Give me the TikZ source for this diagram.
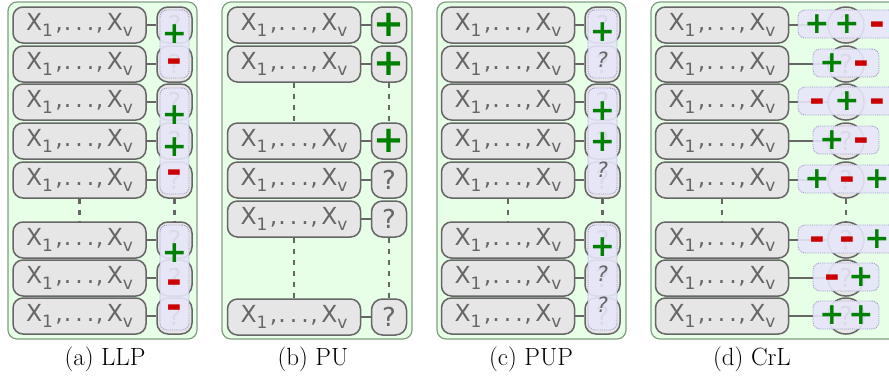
\documentclass[tikz,border=0pt]{standalone}
\usepackage{fontspec}
\newfontfamily\dejavu{DejaVu Sans}

\definecolor{panelfill}{HTML}{E6FFE6}
\definecolor{panelline}{HTML}{7F9F7F}
\definecolor{boxfill}{HTML}{E6E6E6}
\definecolor{boxline}{HTML}{666666}
\definecolor{txtgray}{HTML}{666666}
\definecolor{bagfill}{HTML}{E6E6F9}
\definecolor{bagline}{HTML}{9A9AC8}
\definecolor{plusgreen}{HTML}{008000}
\definecolor{minusred}{HTML}{CC0000}

% variable list X_1,...,X_v
\newcommand\xsub[1]{\raisebox{-6.5pt}{\fontsize{17}{17}\selectfont #1}}
\newcommand\xvars{X\xsub{1}\kern2.5pt,\kern1pt.\kern4pt.\kern4pt.\kern1.5pt,\kern3.5pt X\xsub{v}}

\tikzset{
  panel/.style={draw=panelline, fill=panelfill, line width=1.2pt, rounded corners=9pt},
  xbox/.style={draw=boxline, fill=boxfill, line width=1.5pt, rounded corners=10pt,
    minimum width=133pt, minimum height=36pt, inner sep=0pt, text=txtgray,
    font=\dejavu\fontsize{23.5}{23.5}\selectfont},
  lbox/.style={draw=boxline, fill=boxfill, line width=1.5pt, rounded corners=11pt,
    minimum width=35pt, minimum height=36pt, inner sep=0pt, text=txtgray,
    font=\dejavu\fontsize{26}{26}\selectfont},
  cbox/.style={lbox, rounded corners=17.5pt, minimum width=36pt},
  link/.style={draw=boxline, line width=2pt},
  gap/.style={draw=boxline, line width=2.8pt, dash pattern=on 5.5pt off 5.5pt},
  bag/.style={draw=bagline, densely dotted, line width=0.9pt, fill=bagfill,
    fill opacity=0.9, rounded corners=7pt, inner sep=0pt},
  plussym/.style={text=plusgreen, inner sep=0pt, font=\dejavu\bfseries\fontsize{30}{30}\selectfont},
  bigplus/.style={text=plusgreen, inner sep=0pt, font=\dejavu\bfseries\fontsize{37}{37}\selectfont},
  minussym/.style={text=minusred, inner sep=0pt, yshift=-4.5pt,
    font=\dejavu\bfseries\fontsize{38}{38}\selectfont},
  unksym/.style={text=txtgray, inner sep=0pt, font=\dejavu\itshape\fontsize{21}{21}\selectfont},
  subcap/.style={anchor=base, inner sep=0pt, font=\fontsize{24.9}{30}\selectfont},
}

\begin{document}
\begin{tikzpicture}[x=1pt, y=-1pt]
\useasboundingbox (0,0) rectangle (889,381);

% ---------- panel backgrounds ----------
\draw[panel] (8,2) rectangle (197,339);
\draw[panel] (222,2) rectangle (412,339);
\draw[panel] (437,2) rectangle (626,339);
\draw[panel] (651,2) rectangle (910,339);

% ---------- (a) LLP ----------
\foreach \i/\y in {1/25,2/64,3/102,4/141,5/180,6/240,7/278,8/316} {
  \node[xbox] (a\i) at (79.5,\y) {\xvars};
  \node[lbox] (la\i) at (174.5,\y) {?};
  \draw[link] (a\i) -- (la\i);
}
\draw[gap] (a5) -- (a6);
\draw[gap] (la5) -- (la6);
\node[bag, minimum width=29pt, minimum height=68pt]  (ba1) at (174.5,44) {};
\node[bag, minimum width=29pt, minimum height=106pt] (ba2) at (174.5,141) {};
\node[bag, minimum width=29pt, minimum height=105pt] (ba3) at (174.5,277.5) {};
\node[plussym]  (sa1) at (174.5,34.5) {+};
\node[minussym] (sa2) at (174.5,61) {-};
\node[plussym]  (sa3) at (174.5,115) {+};
\node[plussym]  (sa4) at (174.5,147) {+};
\node[minussym] (sa5) at (174.5,172) {-};
\node[plussym]  (sa6) at (174.5,253) {+};
\node[minussym] (sa7) at (174.5,282) {-};
\node[minussym] (sa8) at (174.5,307) {-};

% ---------- (b) PU ----------
\foreach \i/\y in {1/25,2/64,3/141} {
  \node[xbox] (b\i) at (294,\y) {\xvars};
  \node[lbox] (lb\i) at (389,\y) {};
  \node[bigplus] (sb\i) at (389,\y) {+};
  \draw[link] (b\i) -- (lb\i);
}
\foreach \i/\y in {4/180,5/219,6/317} {
  \node[xbox] (b\i) at (294,\y) {\xvars};
  \node[lbox] (lb\i) at (389,\y) {?};
  \draw[link] (b\i) -- (lb\i);
}
\draw[gap] (b2) -- (b3);
\draw[gap] (lb2) -- (lb3);
\draw[gap] (b5) -- (b6);
\draw[gap] (lb5) -- (lb6);

% ---------- (c) PUP ----------
\foreach \i/\y in {1/25,2/64,3/102,4/141,5/180,6/240,7/278,8/316} {
  \node[xbox] (c\i) at (508,\y) {\xvars};
  \node[lbox] (lc\i) at (602.5,\y) {?};
  \draw[link] (c\i) -- (lc\i);
}
\draw[gap] (c5) -- (c6);
\draw[gap] (lc5) -- (lc6);
\node[bag, minimum width=29pt, minimum height=68pt]  (bc1) at (602.5,44) {};
\node[bag, minimum width=29pt, minimum height=106pt] (bc2) at (602.5,141) {};
\node[bag, minimum width=29pt, minimum height=105pt] (bc3) at (602.5,277.5) {};
\node[plussym] (sc1) at (602.5,32) {+};
\node[unksym]  (sc2) at (602.5,60) {?};
\node[plussym] (sc3) at (602.5,111) {+};
\node[plussym] (sc4) at (602.5,142) {+};
\node[unksym]  (sc5) at (602.5,170) {?};
\node[plussym] (sc6) at (602.5,247) {+};
\node[unksym]  (sc7) at (602.5,274) {?};
\node[unksym]  (sc8) at (602.5,305) {?};

% ---------- (d) CrL ----------
\foreach \i/\y in {1/25,2/64,3/102,4/141,5/180,6/240,7/278,8/316} {
  \node[xbox] (d\i) at (722,\y) {\xvars};
  \node[cbox] (ld\i) at (846,\y) {?};
  \draw[link] (d\i) -- (ld\i);
}
\draw[gap] (d5) -- (d6);
\draw[gap] (ld5) -- (ld6);
% groups of three and of two labels
\foreach \i/\y in {1/25,3/102,5/180,6/240} {
  \node[bag, minimum width=98pt, minimum height=28pt] (bd\i) at (847,\y-1) {};
}
\foreach \i/\y in {2/64,4/141,7/278,8/316} {
  \node[bag, minimum width=66pt, minimum height=28pt] (bd\i) at (846,\y-1) {};
}
\node[plussym]  (sd1a) at (817,24) {+};
\node[plussym]  (sd1b) at (847,24) {+};
\node[minussym] (sd1c) at (877,24) {-};
\node[plussym]  (sd2a) at (832,63) {+};
\node[minussym] (sd2b) at (861,63) {-};
\node[minussym] (sd3a) at (817,101) {-};
\node[plussym]  (sd3b) at (847,101) {+};
\node[minussym] (sd3c) at (877,101) {-};
\node[plussym]  (sd4a) at (832,140) {+};
\node[minussym] (sd4b) at (861,140) {-};
\node[plussym]  (sd5a) at (817,179) {+};
\node[minussym] (sd5b) at (847,179) {-};
\node[plussym]  (sd5c) at (877,179) {+};
\node[minussym] (sd6a) at (817,239) {-};
\node[minussym] (sd6b) at (847,239) {-};
\node[plussym]  (sd6c) at (877,239) {+};
\node[minussym] (sd7a) at (832,277) {-};
\node[plussym]  (sd7b) at (861,277) {+};
\node[plussym]  (sd8a) at (832,315) {+};
\node[plussym]  (sd8b) at (861,315) {+};

% ---------- captions ----------
\node[subcap] (capa) at (105,365) {(a) LLP};
\node[subcap] (capb) at (313,365) {(b) PU};
\node[subcap] (capc) at (531,365) {(c) PUP};
\node[subcap] (capd) at (752,365) {(d) CrL};
\end{tikzpicture}
\end{document}
